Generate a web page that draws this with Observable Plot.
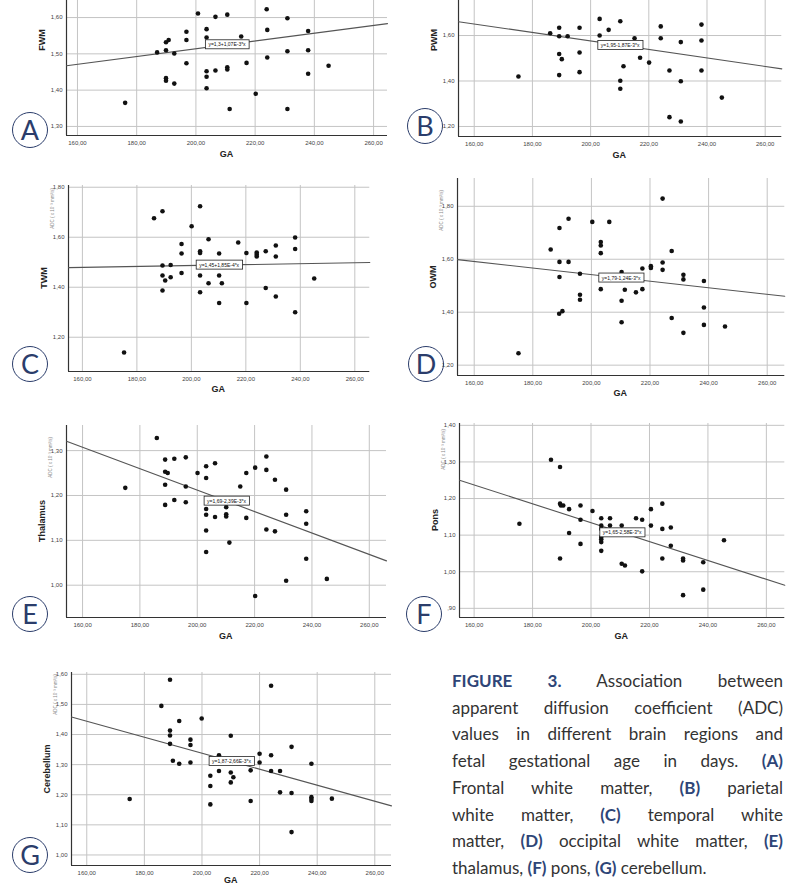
<!DOCTYPE html>
<html><head><meta charset="utf-8">
<script src="https://cdn.jsdelivr.net/npm/d3@7"></script>
<script src="https://cdn.jsdelivr.net/npm/@observablehq/plot@0.6"></script>
<style>
html,body{margin:0;padding:0;background:#fff;}
#page{position:relative;width:792px;height:887px;overflow:hidden;font-family:"Liberation Sans",Arial,sans-serif;}
#page svg{position:absolute;overflow:visible;}
.ytitle{position:absolute;font-weight:bold;font-size:9px;color:#222;transform-origin:0 0;transform:rotate(-90deg) translate(-50%,-50%);white-space:nowrap;}
.xtitle{position:absolute;font-weight:bold;font-size:9px;color:#222;transform:translate(-50%,-50%);white-space:nowrap;}
.adc{position:absolute;font-size:4.5px;color:#888;transform-origin:0 0;transform:rotate(-90deg) translate(-100%,-50%);white-space:nowrap;}
.lab{position:absolute;width:34px;height:34px;border:1.6px solid #2b3d6b;border-radius:50%;color:#2b3d6b;font-family:Lato,"Noto Sans",sans-serif;font-size:27px;line-height:34px;text-align:center;transform:translate(-50%,-50%);}
#cap{position:absolute;left:452px;top:668px;width:331px;font-family:Lato,"Noto Sans",sans-serif;font-size:17px;line-height:26.7px;color:#333;}
#cap div{text-align:justify;text-align-last:justify;white-space:nowrap;}
#cap div.last{text-align:left;text-align-last:left;}
#cap b{color:#2e4577;}
</style></head>
<body><div id="page"></div>
<script>
// ---------- data ----------
const xTickValues = [160, 180, 200, 220, 240, 260];
const panelLetters = ["A","B","C","D","E","F","G"];
const regionTitles = ["FWM","PWM","TWM","OWM","Thalamus","Pons","Cerebellum"];

const A_ga = [176.1,186.9,189.9,190.8,189.9,192.7,189.9,189.9,192.7,196.8,196.8,196.8,200.7,203.6,203.6,203.6,203.6,203.6,206.6,206.6,210.6,210.6,210.6,211.4,215.3,217.1,220.2,223.9,224.1,224.1,230.9,230.9,230.9,237.9,237.9,237.9,244.8];
const A_adc = [1.365,1.504,1.532,1.538,1.510,1.501,1.433,1.426,1.418,1.561,1.538,1.474,1.611,1.568,1.545,1.452,1.437,1.405,1.602,1.454,1.608,1.463,1.457,1.348,1.548,1.475,1.390,1.623,1.566,1.490,1.598,1.507,1.348,1.563,1.510,1.445,1.467];

const B_ga = [175.2,186.1,189.2,189.2,192.1,189.2,190.1,189.2,196.2,196.2,196.2,203.1,203.1,206.2,210.2,210.2,210.2,211.3,215.1,217.0,220.1,224.1,224.1,227.1,227.1,231.0,231.0,231.0,238.1,238.1,238.1,245.1];
const B_adc = [1.420,1.610,1.634,1.597,1.597,1.519,1.496,1.426,1.634,1.525,1.439,1.673,1.600,1.625,1.663,1.401,1.366,1.465,1.588,1.502,1.481,1.640,1.588,1.446,1.241,1.571,1.399,1.222,1.648,1.578,1.446,1.327];

const C_ga = [175.3,186.3,189.4,189.4,189.4,189.4,190.4,192.4,192.4,196.4,196.4,196.4,200.1,203.2,203.2,203.2,203.2,203.2,206.3,206.3,210.2,210.2,210.2,211.2,217.2,220.2,220.2,224.0,224.0,224.0,227.3,227.3,231.0,231.0,231.0,238.1,238.1,238.1,245.1];
const C_adc = [1.139,1.676,1.704,1.487,1.447,1.387,1.427,1.489,1.440,1.573,1.535,1.457,1.644,1.724,1.544,1.537,1.447,1.380,1.592,1.416,1.535,1.447,1.337,1.416,1.579,1.537,1.337,1.539,1.531,1.523,1.544,1.397,1.567,1.523,1.363,1.599,1.553,1.300,1.435];

const D_ga = [175.1,186.1,189.1,189.1,189.1,189.0,190.1,192.2,192.2,196.1,196.1,196.1,200.3,203.2,203.2,203.2,203.2,206.1,210.3,210.3,210.3,211.4,215.2,217.4,217.4,220.3,220.3,224.3,224.3,224.3,227.4,227.4,231.4,231.4,231.4,238.4,238.4,238.4,245.6];
const D_adc = [1.245,1.637,1.718,1.590,1.533,1.394,1.404,1.753,1.590,1.545,1.466,1.447,1.741,1.665,1.652,1.623,1.487,1.741,1.552,1.443,1.362,1.485,1.475,1.565,1.487,1.574,1.567,1.829,1.588,1.560,1.631,1.378,1.541,1.524,1.322,1.518,1.418,1.352,1.346];

const E_ga = [174.9,185.9,188.8,188.8,189.7,188.8,188.8,192.0,192.0,196.0,196.0,196.0,200.1,203.1,203.1,203.1,203.1,203.1,203.1,206.2,206.2,210.1,210.1,210.1,211.2,215.0,217.1,217.1,220.2,220.2,224.1,224.1,224.1,227.1,227.1,231.0,231.0,231.0,238.0,238.0,238.0,245.2];
const E_adc = [1.217,1.328,1.280,1.253,1.250,1.224,1.179,1.282,1.190,1.285,1.220,1.185,1.250,1.265,1.239,1.170,1.157,1.122,1.074,1.272,1.152,1.174,1.158,1.153,1.095,1.220,1.250,1.150,1.262,0.976,1.287,1.257,1.124,1.235,1.120,1.213,1.157,1.010,1.165,1.137,1.059,1.014];

const F_ga = [175.5,186.3,189.4,189.4,189.7,190.5,189.4,192.5,192.5,196.4,196.4,196.4,200.5,203.5,203.5,203.5,203.5,203.5,203.5,203.5,206.5,206.5,210.5,210.5,211.6,215.4,217.5,217.5,220.5,220.5,224.4,224.4,224.4,227.3,227.3,231.5,231.5,231.5,238.4,238.4,245.5];
const F_adc = [1.131,1.306,1.286,1.186,1.181,1.181,1.036,1.171,1.106,1.181,1.142,1.076,1.166,1.146,1.126,1.117,1.095,1.089,1.081,1.057,1.146,1.126,1.126,1.022,1.017,1.146,1.142,1.001,1.171,1.126,1.186,1.117,1.036,1.121,1.071,1.036,1.031,0.936,1.026,0.951,1.086];

const G_ga = [174.9,185.9,188.9,188.9,188.9,188.9,189.9,192.1,192.1,196.0,196.0,196.0,199.9,202.9,202.9,202.9,205.9,205.9,210.0,210.0,210.0,210.9,216.9,216.9,220.0,220.0,224.0,224.0,224.0,227.1,227.1,231.1,231.1,231.1,238.0,238.0,238.0,238.0,245.1];
const G_adc = [1.186,1.495,1.582,1.413,1.397,1.369,1.313,1.445,1.303,1.383,1.365,1.307,1.453,1.263,1.229,1.168,1.331,1.279,1.396,1.274,1.241,1.258,1.281,1.179,1.336,1.307,1.562,1.331,1.279,1.279,1.208,1.359,1.206,1.076,1.303,1.192,1.186,1.179,1.187];

// fit lines (intercept, slope) and their printed equations
const intercepts = [1.3, 1.95, 1.45, 1.79, 1.69, 1.65, 1.87];
const slopes = [1.07e-3, -1.87e-3, 1.85e-4, -1.24e-3, -2.39e-3, -2.58e-3, -2.66e-3];
const equations = ["y=1,3+1,07E-3*x","y=1,95-1,87E-3*x","y=1,45+1,85E-4*x","y=1,79-1,24E-3*x","y=1,69-2,39E-3*x","y=1,65-2,58E-3*x","y=1,87-2,66E-3*x"];

const yTickValues = [
  [1.30,1.40,1.50,1.60],
  [1.20,1.40,1.60],
  [1.20,1.40,1.60,1.80],
  [1.20,1.40,1.60,1.80],
  [1.00,1.10,1.20,1.30],
  [0.90,1.00,1.10,1.20,1.30,1.40],
  [1.00,1.10,1.20,1.30,1.40,1.50,1.60]
];
const xDomains = [[156.3,264.7],[154.6,265.7],[154.9,265.5],[154.3,266.0],[154.4,266.0],[155.0,266.3],[154.7,265.8]];
const yDomains = [[1.275,1.647],[1.156,1.754],[1.063,1.807],[1.161,1.905],[0.928,1.356],[0.875,1.405],[0.965,1.606]];
const gaSeries = [A_ga,B_ga,C_ga,D_ga,E_ga,F_ga,G_ga];
const adcSeries = [A_adc,B_adc,C_adc,D_adc,E_adc,F_adc,G_adc];

// ---------- layout (page pixels: left, right, top, bottom of each plot frame) ----------
const frames = [[66,387,0,135],[457.7,781,0,136],[67.7,369,185,371],[456.7,784,178,375],[65.7,385.7,425,617],[458.7,784,423,617],[70.7,390.7,672,865]];
const letterPos = [[30,130],[425,126],[30,364],[426,364],[30,614],[424,614],[30,855]];
const yTitleY = [40,40,null,null,null,null,null];
const xTitleDy = [19,19,18,18,19,19,15];
const adcOffset = [null,null,3,12,12,6,2];

const page = document.getElementById("page");
const fmt = d => d.toFixed(2).replace(".", ",").replace(/^0/, "");

function addBoxes(svg){
  svg.querySelectorAll('g[aria-label="text"] text').forEach(t => {
    const bb = t.getBBox();
    const r = document.createElementNS("http://www.w3.org/2000/svg","rect");
    r.setAttribute("x", bb.x - 3);
    r.setAttribute("y", bb.y - 1.5);
    r.setAttribute("width", bb.width + 6);
    r.setAttribute("height", bb.height + 3);
    r.setAttribute("fill", "#fff");
    r.setAttribute("stroke", "#222");
    r.setAttribute("stroke-width", "0.8");
    const tr = t.getAttribute("transform");
    if (tr) r.setAttribute("transform", tr);
    t.parentNode.insertBefore(r, t);
  });
}

for (let i = 0; i < 7; i++) {
  const [fx0, fx1, fy0, fy1] = frames[i];
  const ml = 40, mr = 6, mt = 6, mb = 24;
  const a = intercepts[i], b = slopes[i];
  const xd = xDomains[i], yd = yDomains[i];
  const pts = gaSeries[i].map((g, k) => ({ga: g, adc: adcSeries[i][k]}));
  const labelX = (xd[0] + xd[1]) / 2;
  const svg = Plot.plot({
    width: fx1 - fx0 + ml + mr,
    height: fy1 - fy0 + mt + mb,
    marginLeft: ml, marginRight: mr, marginTop: mt, marginBottom: mb,
    style: {fontFamily: '"Liberation Sans", Arial, sans-serif', fontSize: "6px", color: "#444", background: "transparent", overflow: "visible"},
    x: {domain: xd},
    y: {domain: yd},
    marks: [
      Plot.gridX(xTickValues, {stroke: "#c4c4c4", strokeOpacity: 1, strokeWidth: 1}),
      Plot.gridY(yTickValues[i], {stroke: "#c4c4c4", strokeOpacity: 1, strokeWidth: 1}),
      Plot.axisX({ticks: xTickValues, tickFormat: fmt, tickSize: 0, tickPadding: 5, label: null}),
      Plot.axisY({ticks: yTickValues[i], tickFormat: fmt, tickSize: 0, tickPadding: 4, label: null}),
      Plot.ruleX([xd[0]], {stroke: "#333", strokeWidth: 1.2}),
      Plot.ruleY([yd[0]], {stroke: "#333", strokeWidth: 1.2}),
      Plot.line(xd, {x: d => d, y: d => a + b * d, stroke: "#555", strokeWidth: 1.1}),
      Plot.dot(pts, {x: "ga", y: "adc", r: 2.3, fill: "#111", stroke: "none"}),
      Plot.text([labelX], {x: d => d, y: d => a + b * d, text: () => equations[i], fontSize: 5, fill: "#111"})
    ]
  });
  svg.style.left = (fx0 - ml) + "px";
  svg.style.top = (fy0 - mt) + "px";
  page.appendChild(svg);
  addBoxes(svg);

  const cx = (fx0 + fx1) / 2;
  const xt = document.createElement("div");
  xt.className = "xtitle"; xt.textContent = "GA";
  xt.style.left = cx + "px"; xt.style.top = (fy1 + xTitleDy[i]) + "px";
  page.appendChild(xt);

  const yt = document.createElement("div");
  yt.className = "ytitle"; yt.textContent = regionTitles[i];
  yt.style.left = (fx0 - 24) + "px";
  yt.style.top = (yTitleY[i] != null ? yTitleY[i] : (fy0 + fy1) / 2) + "px";
  page.appendChild(yt);

  if (adcOffset[i] != null) {
    const ad = document.createElement("div");
    ad.className = "adc"; ad.textContent = "ADC ( x 10⁻³ mm²/s)";
    ad.style.left = (fx0 - 16) + "px"; ad.style.top = (fy0 + adcOffset[i]) + "px";
    page.appendChild(ad);
  }

  const lb = document.createElement("div");
  lb.className = "lab"; lb.textContent = panelLetters[i];
  lb.style.left = letterPos[i][0] + "px"; lb.style.top = letterPos[i][1] + "px";
  page.appendChild(lb);
}

// caption
const capLines = [
  '<b>FIGURE 3.</b> Association between',
  'apparent diffusion coefficient (ADC)',
  'values in different brain regions and',
  'fetal gestational age in days. <b>(A)</b>',
  'Frontal white matter, <b>(B)</b> parietal',
  'white matter, <b>(C)</b> temporal white',
  'matter, <b>(D)</b> occipital white matter, <b>(E)</b>',
  'thalamus, <b>(F)</b> pons, <b>(G)</b> cerebellum.'
];
const cap = document.createElement("div");
cap.id = "cap";
cap.innerHTML = capLines.map((l, k) => `<div${k === capLines.length - 1 ? ' class="last"' : ''}>${l}</div>`).join("");
page.appendChild(cap);
</script>
</body></html>
